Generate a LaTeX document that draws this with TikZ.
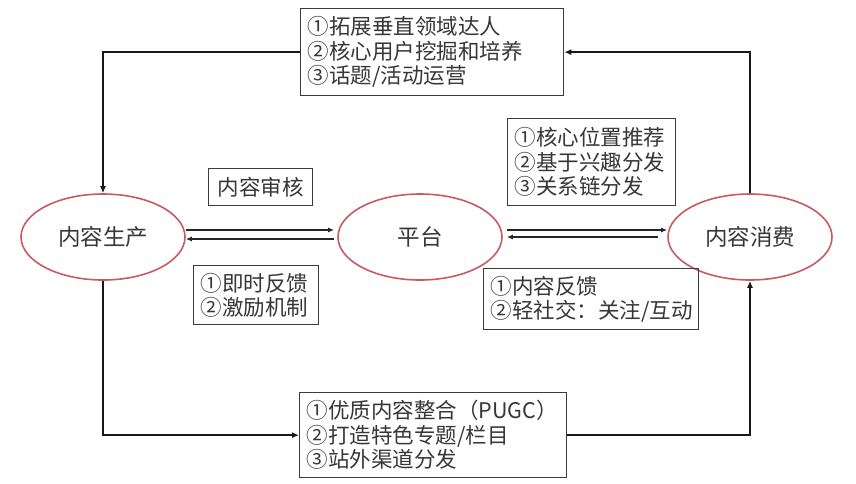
\documentclass[tikz,border=0pt]{standalone}
\usepackage{fontspec}
\newfontfamily\cjk{Noto Sans CJK SC}
\usetikzlibrary{shapes.geometric,arrows.meta,calc}
\definecolor{ovalred}{RGB}{200,90,100}
\definecolor{txt}{RGB}{55,55,55}
\definecolor{frame}{RGB}{60,60,60}
\tikzset{
  box/.style={draw=frame, line width=1.3pt, align=left, inner xsep=7pt, inner ysep=0pt,
    anchor=north west, font=\cjk\fontsize{21.5}{24.5}\selectfont, text=txt},
  oval/.style={ellipse, draw=ovalred, line width=1.6pt, minimum width=164pt, minimum height=86pt,
    inner sep=0pt, font=\cjk\fontsize{22.5}{26}\selectfont, text=txt},
  loop/.style={line width=2pt, draw=black!90, -{Latex[length=7pt,width=6pt]}},
  mid/.style={line width=1.2pt, draw=black!85, -{Latex[length=6pt,width=5pt]}}
}
\begin{document}
\begin{tikzpicture}[x=1pt,y=-1pt]
\useasboundingbox[fill=white] (0,0) rectangle (856,483);
% ovals
\node[oval] (prod) at (103,237) {内容生产};
\node[oval] (plat) at (420,237) {平台};
\node[oval] (cons) at (750,237) {内容消费};
% boxes
\node[box, text width=249pt, minimum height=87pt] (topbox) at (300,8)
  {①拓展垂直领域达人\\②核心用户挖掘和培养\\③话题/活动运营};
\node[box, align=center, inner xsep=0pt, text width=104pt, minimum height=37pt] (audit) at (208,168) {内容审核};
\node[box, text width=111pt, minimum height=59pt] (feedback) at (193,265) {①即时反馈\\②激励机制};
\node[box, text width=154pt, minimum height=87pt] (recommend) at (507,118)
  {①核心位置推荐\\②基于兴趣分发\\③关系链分发};
\node[box, text width=201pt, minimum height=61pt] (social) at (483,268)
  {①内容反馈\\②轻社交：关注/互动};
\node[box, text width=253pt, minimum height=85pt] (botbox) at (299,392)
  {①优质内容整合（PUGC）\\②打造特色专题/栏目\\③站外渠道分发};
% outer loop
\draw[loop] (topbox.west) -| (prod.north);
\draw[loop] (prod.south) |- (botbox.west);
\draw[loop] (botbox.east) -| (cons.south);
\draw[loop] (cons.north) |- (topbox.east);
% middle arrows
\draw[mid] ($(prod.east)+(0,-7)$) -- ($(plat.west)+(-3,-7)$);
\draw[mid] ($(plat.west)+(-3,2)$) -- ($(prod.east)+(0,2)$);
\draw[mid] ($(plat.east)+(4,-7)$) -- ($(cons.west)+(0,-7)$);
\draw[mid] ($(cons.west)+(-9,0)$) -- ($(plat.east)+(4,0)$);
\end{tikzpicture}
\end{document}
